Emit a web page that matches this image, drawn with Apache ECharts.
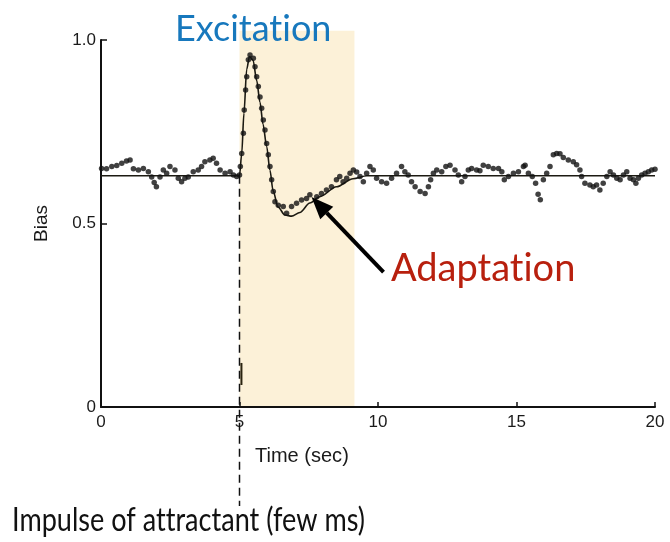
<!DOCTYPE html>
<html>
<head>
<meta charset="utf-8">
<script src="https://cdn.jsdelivr.net/npm/echarts@6/dist/echarts.min.js"></script>
<style>
  html, body { margin: 0; padding: 0; background: #fff; }
  #chart { width: 670px; height: 542px; }
</style>
</head>
<body>
<div id="chart"></div>
<script>
// Measured bias of swimming cells (time in seconds)
const biasTime = [
  0.02, 0.20, 0.39, 0.57, 0.75, 0.92, 1.05, 1.17, 1.35, 1.53, 1.71, 1.83, 1.92, 2.00,
  2.13, 2.25, 2.37, 2.49, 2.67, 2.79, 2.91, 3.03, 3.15, 3.33, 3.51, 3.63, 3.75, 3.93,
  4.05, 4.17, 4.30, 4.48, 4.66, 4.78, 4.90, 5.00, 5.03, 5.08, 5.14, 5.17, 5.22, 5.26,
  5.32, 5.38, 5.50, 5.56, 5.62, 5.68, 5.74, 5.80, 5.86, 5.92, 5.98, 6.04, 6.10, 6.16,
  6.22, 6.28, 6.40, 6.58, 6.70, 6.88, 7.06, 7.24, 7.42, 7.54, 7.79, 7.96, 8.14, 8.32,
  8.50, 8.62, 8.74, 8.87, 8.99, 9.11, 9.23, 9.35, 9.47, 9.59, 9.71, 9.83, 9.95, 10.13,
  10.31, 10.49, 10.67, 10.85, 10.97, 11.09, 11.21, 11.34, 11.52, 11.70, 11.82, 11.90,
  12.00, 12.12, 12.30, 12.45, 12.60, 12.78, 12.90, 13.02, 13.14, 13.26, 13.38, 13.56,
  13.68, 13.80, 13.98, 14.16, 14.35, 14.47, 14.56, 14.71, 14.89, 15.07, 15.25, 15.31,
  15.43, 15.57, 15.69, 15.78, 15.86, 15.97, 16.09, 16.21, 16.33, 16.45, 16.57, 16.69,
  16.87, 17.05, 17.17, 17.29, 17.35, 17.47, 17.65, 17.77, 17.89, 18.01, 18.13, 18.26,
  18.38, 18.50, 18.62, 18.74, 18.86, 18.98, 19.10, 19.22, 19.31, 19.40, 19.52, 19.64,
  19.76, 19.88, 20.00
];
const biasValue = [
  0.650, 0.649, 0.655, 0.658, 0.664, 0.670, 0.673, 0.649, 0.646, 0.650, 0.641, 0.627, 0.612, 0.600,
  0.627, 0.646, 0.637, 0.655, 0.646, 0.623, 0.614, 0.623, 0.627, 0.641, 0.646, 0.655, 0.668, 0.673,
  0.678, 0.664, 0.646, 0.637, 0.641, 0.632, 0.628, 0.632, 0.655, 0.691, 0.746, 0.809, 0.864, 0.900,
  0.946, 0.959, 0.950, 0.927, 0.900, 0.873, 0.845, 0.814, 0.782, 0.755, 0.718, 0.687, 0.655, 0.619,
  0.587, 0.559, 0.550, 0.546, 0.528, 0.546, 0.555, 0.564, 0.568, 0.578, 0.573, 0.582, 0.591, 0.600,
  0.619, 0.628, 0.614, 0.623, 0.637, 0.646, 0.640, 0.628, 0.614, 0.637, 0.655, 0.646, 0.623, 0.614,
  0.610, 0.623, 0.637, 0.655, 0.641, 0.632, 0.614, 0.600, 0.587, 0.582, 0.600, 0.619,
  0.637, 0.646, 0.641, 0.655, 0.659, 0.646, 0.632, 0.614, 0.628, 0.646, 0.650, 0.646,
  0.644, 0.659, 0.655, 0.650, 0.650, 0.641, 0.619, 0.628, 0.637, 0.641, 0.655, 0.659,
  0.637, 0.628, 0.610, 0.580, 0.565, 0.619, 0.637, 0.655, 0.687, 0.691, 0.690, 0.680,
  0.673, 0.668, 0.660, 0.646, 0.628, 0.610, 0.605, 0.600, 0.605, 0.591, 0.610, 0.628,
  0.641, 0.632, 0.623, 0.619, 0.632, 0.641, 0.623, 0.619, 0.610, 0.623, 0.632, 0.637,
  0.641, 0.646, 0.648
];

// Model response to the impulse
const fitTime = [0, 5.00, 5.08, 5.16, 5.26, 5.36, 5.49, 5.62, 5.74, 5.85, 5.98, 6.10, 6.21,
  6.39, 6.64, 6.88, 7.18, 7.54, 7.90, 8.50, 9.10, 9.60, 20];
const fitValue = [0.63, 0.63, 0.69, 0.80, 0.92, 0.955, 0.945, 0.89, 0.83, 0.77, 0.71, 0.645, 0.59,
  0.545, 0.523, 0.52, 0.53, 0.556, 0.573, 0.60, 0.622, 0.63, 0.63];

// Excitation window (seconds, bias)
const excitationStart = 5.0;
const excitationEnd = 9.15;
const excitationTop = 1.025;

const impulseTime = 5.0;
const yTicks = [0, 0.5, 1.0];

const biasPoints = biasTime.map((t, i) => [t, biasValue[i]]);
const fitPoints = fitTime.map((t, i) => [t, fitValue[i]]);

const chart = echarts.init(document.getElementById('chart'), null, { renderer: 'canvas' });

const tickFont = { fontFamily: 'Liberation Sans', fontSize: 17, color: '#1a1a1a' };
const axisStroke = { color: '#111', width: 2 };

chart.setOption({
  animation: false,
  backgroundColor: '#fff',
  grid: { left: 101, right: 15, top: 40, bottom: 135, outerBoundsMode: 'none' },
  xAxis: {
    type: 'value', min: 0, max: 20, interval: 5,
    axisLine: { show: true, lineStyle: axisStroke },
    axisTick: { show: true, inside: true, length: 5, lineStyle: { color: '#111', width: 1.5 } },
    axisLabel: Object.assign({ margin: 7 }, tickFont),
    splitLine: { show: false }
  },
  yAxis: {
    type: 'value', min: 0, max: 1.0, interval: 0.5,
    axisLine: { show: true, lineStyle: axisStroke },
    axisTick: { show: true, inside: true, length: 6, lineStyle: { color: '#111', width: 1.5 } },
    axisLabel: Object.assign({
      margin: 5,
      formatter: v => (yTicks.indexOf(v) === 0 ? '0' : v.toFixed(1))
    }, tickFont),
    splitLine: { show: false },
    name: 'Bias', nameLocation: 'middle', nameGap: 50, nameRotate: 90,
    nameTextStyle: { fontFamily: 'Liberation Sans', fontSize: 19, color: '#1a1a1a' }
  },
  series: [
    {
      type: 'custom',
      z: -1,
      clip: false,
      silent: true,
      data: [[excitationStart, excitationEnd, excitationTop]],
      renderItem: (params, api) => {
        const p0 = api.coord([api.value(0), api.value(2)]);
        const p1 = api.coord([api.value(1), 0]);
        return {
          type: 'rect',
          shape: { x: p0[0], y: p0[1], width: p1[0] - p0[0], height: p1[1] - p0[1] },
          style: { fill: '#fcf1d8' }
        };
      }
    },
    {
      type: 'line',
      data: fitPoints,
      smooth: 0.3,
      smoothMonotone: 'x',
      showSymbol: false,
      lineStyle: { color: '#1c1a12', width: 1.6 },
      z: 3
    },
    {
      type: 'scatter',
      data: biasPoints,
      symbol: 'circle',
      symbolSize: 5.5,
      itemStyle: { color: '#111' },
      z: 4
    }
  ]
});

// Keep the canvas from joining "t" and "i" into a ligature in the labels
const painter = chart.getZr().painter;
if (painter && painter.getLayers) {
  const layers = painter.getLayers();
  Object.keys(layers).forEach(k => {
    const ctx = layers[k].ctx;
    if (ctx) {
      ctx.letterSpacing = '0.01px';
      ctx.textRendering = 'optimizeSpeed';
    }
  });
}

// Annotations anchored to data coordinates
const px = p => chart.convertToPixel({ gridIndex: 0 }, p);
const dashTop = px([impulseTime, 0.63]);
const dashBottom = px([impulseTime, -0.27]);
const markTop = px([5.07, 0.12]);
const markBottom = px([5.07, 0.06]);
const tip = px([7.6, 0.572]);
const tail = [tip[0] + 72, tip[1] + 75];
const ang = Math.atan2(tip[1] - tail[1], tip[0] - tail[0]);
const headLen = 22, headHalf = 9;
const base = [tip[0] - headLen * Math.cos(ang), tip[1] - headLen * Math.sin(ang)];
const nx = -Math.sin(ang), ny = Math.cos(ang);

chart.setOption({
  graphic: [
    {
      type: 'line', z: 5,
      shape: { x1: dashTop[0], y1: dashTop[1], x2: dashBottom[0], y2: dashBottom[1] },
      style: { stroke: '#111', lineWidth: 1.5, lineDash: [8, 5] }
    },
    {
      type: 'line', z: 5,
      shape: { x1: markTop[0], y1: markTop[1], x2: markBottom[0], y2: markBottom[1] },
      style: { stroke: '#2a2410', lineWidth: 2 }
    },
    {
      type: 'line', z: 6,
      shape: { x1: tail[0], y1: tail[1], x2: base[0], y2: base[1] },
      style: { stroke: '#000', lineWidth: 4 }
    },
    {
      type: 'polygon', z: 6,
      shape: { points: [tip, [base[0] + nx * headHalf, base[1] + ny * headHalf], [base[0] - nx * headHalf, base[1] - ny * headHalf]] },
      style: { fill: '#000' }
    },
    {
      type: 'text', z: 7, x: 175, y: 11,
      style: { text: 'Excitation', fill: '#1778bd', font: '36px Lato' }
    },
    {
      type: 'text', z: 7, x: 391, y: 250,
      style: { text: 'Adaptation', fill: '#b8200e', font: '38px Lato' }
    },
    {
      type: 'text', z: 7, x: 255, y: 446,
      style: { text: 'Time (sec)', fill: '#1a1a1a', font: '20px "Liberation Sans"' }
    },
    {
      type: 'text', z: 7, x: 12, y: 504, scaleX: 0.82,
      style: { text: 'Impulse of attractant (few ms)', fill: '#111', font: '33px Lato' }
    }
  ]
});
</script>
</body>
</html>
